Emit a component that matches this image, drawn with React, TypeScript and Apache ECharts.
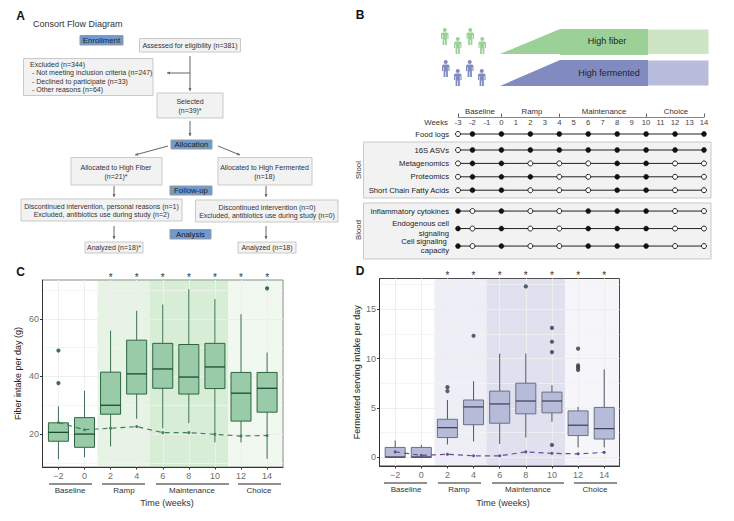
import React, { useEffect, useRef } from "react";
import * as echarts from "echarts";

const FONT = "Liberation Sans";

// Panel B
const scheduleWeeks = [-3, -2, 0, 2, 4, 6, 8, 10, 12, 14];
const foodRows = ["Food logs"];
const stoolRows = ["16S ASVs", "Metagenomics", "Proteomics", "Short Chain Fatty Acids"];
const bloodRows = ["Inflammatory cytokines", "Endogenous cell\nsignaling", "Cell signaling \ncapacity"];
const foodSamples = [[0, 1, 1, 1, 1, 1, 1, 1, 1, 1]];
const stoolSamples = [
  [0, 1, 1, 1, 1, 1, 1, 1, 1, 1],
  [0, 1, 1, 0, 0, 0, 1, 1, 0, 0],
  [0, 1, 1, 1, 0, 0, 1, 1, 0, 0],
  [0, 1, 1, 0, 0, 0, 1, 1, 0, 0],
];
const bloodSamples = [
  [1, 0, 1, 0, 0, 1, 1, 1, 0, 0],
  [1, 0, 1, 0, 0, 1, 1, 1, 0, 0],
  [1, 0, 1, 0, 0, 1, 1, 1, 0, 0],
];

// Panels C, D
const weeks = [-2, 0, 2, 4, 6, 8, 10, 12, 14];
const starWeeks = [2, 4, 6, 8, 10, 12, 14];
// min, Q1, median, Q3, max
const fiberBoxes = [
  [11.3, 17.5, 20.6, 23.9, 29.6],
  [12, 15.4, 20, 25.7, 35],
  [15.7, 26.9, 30, 41.5, 55.9],
  [25.3, 33.9, 40.9, 52.6, 62.8],
  [22, 35.9, 42.6, 51.5, 65],
  [23.8, 33.9, 39.8, 51.1, 70.3],
  [17.1, 35.8, 43.3, 51.5, 66.9],
  [17.1, 24.5, 34.2, 41.4, 61.6],
  [11.4, 27.6, 35.9, 41.4, 48.3],
];
const fiberOutliers = [[-2, 37.7], [-2, 49], [14, 70.6]];
const fiberMeans = [24, 21.5, 22, 22.6, 20.5, 20.5, 19.9, 19.3, 19.5];
const fermentedBoxes = [
  [0, 0, 0.03, 1, 1.7],
  [0, 0, 0.03, 1, 1.25],
  [1.3, 2, 3, 3.85, 5.8],
  [1.6, 3.3, 5.1, 5.8, 7.7],
  [1.35, 3.45, 5.4, 6.7, 10.5],
  [2, 4.4, 5.7, 7.5, 10.5],
  [3.6, 4.5, 5.7, 6.6, 7.3],
  [1, 2.2, 3.25, 4.7, 5.1],
  [1, 1.85, 2.9, 5.05, 8.9],
];
const fermentedOutliers = [
  [2, 6.7], [2, 7.1], [4, 12.3], [8, 17.3], [10, 1.25], [10, 10.65], [10, 11.7], [10, 13.1],
  [12, 8.85], [12, 9.1], [12, 9.3], [12, 11],
];
const fermentedMeans = [0.55, 0.2, 0.3, 0.15, 0.15, 0.55, 0.4, 0.35, 0.5];

echarts.graphic.registerShape(
  "person",
  echarts.graphic.extendPath(
    "M3.75 0a2 2 0 1 0 .01 0ZM1.6 4.4H5.9Q7.5 4.4 7.5 6V11H6.4V7H5.9V17H4.1V11.5H3.4V17H1.6V7H1.1V11H0V6Q0 4.4 1.6 4.4Z",
    {}
  ) as any
);

const G: any[] = [];
const txt = (x: number, y: number, text: string, o: any = {}) =>
  G.push({
    type: "text",
    x,
    y,
    rotation: o.rotation || 0,
    z: 5,
    silent: true,
    style: {
      text,
      fill: o.fill || "#333",
      fontSize: o.size || 7.8,
      fontWeight: o.weight || "normal",
      fontFamily: FONT,
      textAlign: o.align || "center",
      textVerticalAlign: "middle",
    },
  });
const box = (x0: number, y0: number, x1: number, y1: number, fill = "#f2f2f2", stroke = "#c9c9c9") =>
  G.push({
    type: "rect",
    silent: true,
    z: 1,
    shape: { x: x0, y: y0, width: x1 - x0, height: y1 - y0 },
    style: { fill, stroke, lineWidth: 1 },
  });
const line = (x0: number, y0: number, x1: number, y1: number, stroke = "#666", w = 1) =>
  G.push({
    type: "line",
    silent: true,
    z: 1,
    shape: { x1: x0, y1: y0, x2: x1, y2: y1 },
    style: { stroke, lineWidth: w },
  });
const arrow = (x0: number, y0: number, x1: number, y1: number) => {
  line(x0, y0, x1, y1);
  const a = Math.atan2(y1 - y0, x1 - x0);
  const p = (d: number, s: number) => [x1 - d * Math.cos(a) - s * Math.sin(a), y1 - d * Math.sin(a) + s * Math.cos(a)];
  G.push({
    type: "polygon",
    silent: true,
    z: 1,
    shape: { points: [[x1, y1], p(3, 1.5), p(3, -1.5)] },
    style: { fill: "#666" },
  });
};
const stage = (x0: number, y0: number, x1: number, y1: number, t: string) => {
  box(x0, y0, x1, y1, "#6d9bd1", "#9a9a9a");
  txt((x0 + x1) / 2, (y0 + y1) / 2, t, { size: 7.8, fill: "#222" });
};
const A_SIZE = 7;

// Panel A
txt(20.5, 16, "A", { size: 12, weight: "bold", fill: "#111" });
txt(33, 24, "Consort Flow Diagram", { align: "left", size: 9 });
stage(80, 35.5, 123, 45, "Enrollment");
box(139.5, 38.5, 240.5, 52);
txt(190, 45.5, "Assessed for eligibility (n=381)", { size: A_SIZE });
box(23.5, 58.5, 153, 95.5);
txt(30, 64, "Excluded (n=344)", { align: "left", size: A_SIZE });
txt(32, 72.5, "- Not meeting inclusion criteria (n=247)", { align: "left", size: A_SIZE });
txt(32, 81, "- Declined to participate (n=33)", { align: "left", size: A_SIZE });
txt(32, 89.5, "- Other reasons (n=64)", { align: "left", size: A_SIZE });
arrow(190, 56, 190, 91);
arrow(190, 73, 167, 73);
box(157, 93, 223, 118);
txt(190, 101, "Selected", { size: A_SIZE });
txt(190, 110, "(n=39)*", { size: A_SIZE });
arrow(190, 121, 190, 136);
stage(171, 140, 212, 149, "Allocation");
arrow(168, 146, 135, 155);
arrow(218, 146, 240, 155);
box(71, 157.5, 162, 185);
txt(116, 167, "Allocated to High Fiber", { size: A_SIZE });
txt(116, 176, "(n=21)*", { size: A_SIZE });
box(218, 157.5, 312, 185);
txt(264.5, 167, "Allocated to High Fermented", { size: A_SIZE });
txt(264.5, 176, "(n=18)", { size: A_SIZE });
stage(170, 186, 212, 195, "Follow-up");
arrow(114, 186, 114, 197);
arrow(266, 186, 266, 197);
box(21, 199, 182, 221);
txt(101.5, 206, "Discontinued intervention, personal reasons (n=1)", { size: A_SIZE });
txt(101.5, 214, "Excluded, antibiotics use during study (n=2)", { size: A_SIZE });
box(195.5, 200, 338, 222);
txt(267, 207, "Discontinued intervention (n=0)", { size: A_SIZE });
txt(267, 215, "Excluded, antibiotics use during study (n=0)", { size: A_SIZE });
arrow(114, 226, 114, 239);
arrow(266, 226, 266, 239);
stage(170, 229.5, 211, 239, "Analysis");
box(85, 242, 143, 253);
txt(114, 247.5, "Analyzed (n=18)*", { size: A_SIZE });
box(238, 242, 296, 253);
txt(267, 247.5, "Analyzed (n=18)", { size: A_SIZE });

// Panel B
txt(360, 15, "B", { size: 12, weight: "bold", fill: "#111" });
[[441, 28], [454, 37], [466.5, 28], [478.5, 37]].forEach(([x, y]) =>
  G.push({ type: "person", x, y, z: 1, silent: true, style: { fill: "#9bd096" } })
);
[[442, 60], [454, 69], [466, 60], [478, 69]].forEach(([x, y]) =>
  G.push({ type: "person", x, y, z: 1, silent: true, style: { fill: "#828bbf" } })
);
const poly = (points: number[][], fill: string) =>
  G.push({ type: "polygon", silent: true, z: 1, shape: { points }, style: { fill } });
poly([[500, 54], [560, 29], [648, 29], [648, 55], [560, 55], [560, 54]], "#9bd096");
poly([[648, 29.5], [708.5, 29.5], [708.5, 54], [648, 54]], "#cde5c4");
poly([[500, 86], [560, 60], [648, 60], [648, 86]], "#828bbf");
poly([[648, 60.5], [708.5, 60.5], [708.5, 85.5], [648, 85.5]], "#b8bcdb");
txt(607, 41, "High fiber", { size: 9, fill: "#222" });
txt(609, 73, "High fermented", { size: 9, fill: "#222" });
txt(480, 111, "Baseline");
txt(532, 111, "Ramp");
txt(604, 111, "Maintenance");
txt(676, 111, "Choice");
txt(448, 122.5, "Weeks", { align: "right" });
box(363.5, 142, 711, 198);
box(363.5, 203, 711, 259);
txt(358, 170, "Stool", { rotation: Math.PI / 2 });
txt(358, 230, "Blood", { rotation: Math.PI / 2 });

// Panel C, D furniture
const phases = (lines: number[][], y: number, labels: number[], ly: number) => {
  const names = ["Baseline", "Ramp", "Maintenance", "Choice"];
  lines.forEach(([a, b], i) => {
    line(a, y, b, y, "#222", 1);
    txt(labels[i], ly, names[i], { size: 8 });
  });
};
txt(20.5, 272, "C", { size: 12, weight: "bold", fill: "#111" });
phases([[49, 92], [102, 145], [156, 229], [238, 281]], 484, [70, 124, 192, 259], 490.5);
txt(167, 503, "Time (weeks)", { size: 9 });
txt(360, 271, "D", { size: 12, weight: "bold", fill: "#111" });
phases([[384, 427], [438, 481], [492, 564], [574, 617]], 483, [406, 459, 528, 595], 489.5);
txt(503, 503, "Time (weeks)", { size: 9 });

const X_B = { left: 458, width: 246 };

const scheduleSeries = (rows: string[], samples: number[][], idx: number) =>
  rows.map((r, i) => ({
    type: "line",
    xAxisIndex: idx,
    yAxisIndex: idx,
    z: 5,
    clip: false,
    symbol: "circle",
    symbolSize: 5,
    lineStyle: { color: "#222", width: 1 },
    data: scheduleWeeks.map((w, k) => ({
      value: [w, r],
      itemStyle: samples[i][k]
        ? { color: "#111", borderColor: "#111", borderWidth: 0.5 }
        : { color: "#fff", borderColor: "#222", borderWidth: 1 },
    })),
  }));

const bAxisX = (gridIndex: number) => ({
  type: "value",
  gridIndex,
  min: -3,
  max: 14,
  show: false,
});
const bAxisY = (gridIndex: number, data: string[]) => ({
  type: "category",
  gridIndex,
  data,
  inverse: true,
  z: 3,
  axisLine: { show: false },
  axisTick: { show: false },
  splitLine: { show: false },
  axisLabel: {
    interval: 0,
    margin: 9,
    fontSize: 7.7,
    lineHeight: 9.5,
    color: "#222",
    fontFamily: FONT,
  },
});

const minus = (v: number) => String(v).replace("-", "\u2212");

const plotAxes = (
  g: number,
  xmin: number,
  xmax: number,
  ymin: number,
  ymax: number,
  yticks: number[],
  yminor: number[],
  name: string,
  nameGap: number
) => ({
  x: [
    {
      type: "value",
      gridIndex: g,
      min: xmin,
      max: xmax,
      z: 2,
      axisLine: { show: true, onZero: false, lineStyle: { color: "#333" } },
      axisTick: { show: true, customValues: weeks, length: 2.5, lineStyle: { color: "#333" } },
      axisLabel: {
        customValues: weeks,
        fontSize: 9,
        color: "#6e6e6e",
        margin: 4,
        fontFamily: FONT,
        formatter: (v: number) => minus(v),
      },
      splitLine: { show: true, lineStyle: { color: "#eeeeee", width: 1 } },
    },
    {
      type: "value",
      gridIndex: g,
      position: "top",
      min: xmin,
      max: xmax,
      z: 2,
      axisLine: { show: false, onZero: false },
      axisTick: { show: false },
      splitLine: { show: false },
      axisLabel: {
        customValues: starWeeks,
        fontSize: 10,
        color: "#333",
        margin: -2,
        fontFamily: FONT,
        formatter: () => "*",
      },
    },
  ],
  y: [
    {
      type: "value",
      gridIndex: g,
      min: ymin,
      max: ymax,
      z: 2,
      name,
      nameLocation: "middle",
      nameGap,
      nameTextStyle: { fontSize: 9, color: "#222", fontFamily: FONT },
      axisLine: { show: true, onZero: false, lineStyle: { color: "#333" } },
      axisTick: { show: true, customValues: yticks, length: 2.5, lineStyle: { color: "#333" } },
      axisLabel: { customValues: yticks, fontSize: 9, color: "#6e6e6e", margin: 3.5, fontFamily: FONT },
      splitLine: { show: true, lineStyle: { color: "#eeeeee", width: 1.2 } },
    },
    {
      type: "value",
      gridIndex: g,
      min: ymin,
      max: ymax,
      z: 2,
      axisLine: { show: false, onZero: false },
      axisTick: { show: false, customValues: yminor },
      axisLabel: { show: false, customValues: yminor },
      splitLine: { show: true, lineStyle: { color: "#f2f2f2", width: 0.8 } },
    },
  ],
});

const bands = (c: string, xmax: number, op: number[]) => ({
  silent: true,
  z: 1,
  label: { show: false },
  data: [
    [{ xAxis: 1, itemStyle: { color: c, opacity: op[0] } }, { xAxis: 5 }],
    [{ xAxis: 5, itemStyle: { color: c, opacity: op[1] } }, { xAxis: 11 }],
    [{ xAxis: 11, itemStyle: { color: c, opacity: op[2] } }, { xAxis: xmax }],
  ],
});

const BOX_HALF = 10;
const boxRenderer = (fill: string, stroke: string, medianColor: string, whisker: string) => (_: any, api: any) => {
  const x = api.value(0);
  const y = (dim: number) => api.coord([x, api.value(dim)])[1];
  const cx = api.coord([x, 0])[0];
  const wl = (y1: number, y2: number, c: string, w: number, x1 = cx, x2 = cx) => ({
    type: "line",
    shape: { x1, y1, x2, y2 },
    style: { stroke: c, lineWidth: w },
  });
  return {
    type: "group",
    children: [
      wl(y(1), y(2), whisker, 1),
      wl(y(4), y(5), whisker, 1),
      {
        type: "rect",
        shape: { x: cx - BOX_HALF, y: y(4), width: BOX_HALF * 2, height: y(2) - y(4) },
        style: { fill, stroke, lineWidth: 1 },
      },
      wl(y(3), y(3), medianColor, 1.2, cx - BOX_HALF, cx + BOX_HALF),
    ],
  };
};

const plotSeries = (
  xi: number,
  yi: number,
  boxes: number[][],
  outliers: number[][],
  means: number[],
  colors: { fill: string; stroke: string; median: string; whisker: string; dash: string; dot: string; band: string },
  xmax: number,
  op: number[]
) => [
  {
    type: "line",
    xAxisIndex: xi,
    yAxisIndex: yi,
    z: 6,
    symbol: "circle",
    symbolSize: 3,
    itemStyle: { color: colors.dash },
    lineStyle: { color: colors.dash, width: 1.2, type: [5, 4] },
    data: weeks.map((w, i) => [w, means[i]]),
    markArea: bands(colors.band, xmax, op),
  },
  {
    type: "custom",
    xAxisIndex: xi,
    yAxisIndex: yi,
    z: 4,
    encode: { x: 0, y: [1, 2, 3, 4, 5] },
    renderItem: boxRenderer(colors.fill, colors.stroke, colors.median, colors.whisker),
    data: weeks.map((w, i) => [w, ...boxes[i]]),
  },
  {
    type: "scatter",
    xAxisIndex: xi,
    yAxisIndex: yi,
    z: 5,
    symbolSize: 4.2,
    itemStyle: { color: colors.dot },
    data: outliers,
  },
];

export default function App() {
  const ref = useRef<HTMLDivElement>(null);
  useEffect(() => {
    document.body.style.margin = "0";
    document.body.style.background = "#fff";
    const chart = echarts.init(ref.current!, undefined, { renderer: "svg" });
    const cA = plotAxes(3, -3.22, 15.22, 8.56, 73.5, [20, 40, 60], [10, 30, 50, 70], "Fiber intake per day (g)", 20);
    const dA = plotAxes(4, -3.2, 15.17, -0.88, 18.1, [0, 5, 10, 15], [2.5, 7.5, 12.5, 17.5], "Fermented serving intake per day", 18);
    chart.setOption({
      animation: false,
      textStyle: { fontFamily: FONT },
      grid: [
        { ...X_B, top: 128, height: 12 },
        { ...X_B, top: 143.3, height: 53.6 },
        { ...X_B, top: 202.3, height: 52.5 },
        { left: 42.5, width: 240.5, top: 280, height: 187, show: true, backgroundColor: "#fff", borderColor: "#888", borderWidth: 1 },
        { left: 379.5, width: 240, top: 278.5, height: 187.5, show: true, backgroundColor: "#fff", borderColor: "#444", borderWidth: 1 },
      ],
      xAxis: [
        {
          type: "value",
          gridIndex: 0,
          position: "top",
          offset: 11,
          min: -3,
          max: 14,
          interval: 1,
          axisLine: { show: true, onZero: false, lineStyle: { color: "#888" } },
          axisTick: { show: true, customValues: [-3, 0, 4, 10, 14], length: 3.5, lineStyle: { color: "#666" } },
          axisLabel: { inside: true, margin: 1.5, fontSize: 7.7, color: "#444", fontFamily: FONT },
          splitLine: { show: false },
        },
        bAxisX(1),
        bAxisX(2),
        ...cA.x,
        ...dA.x,
      ],
      yAxis: [
        bAxisY(0, foodRows),
        bAxisY(1, stoolRows),
        bAxisY(2, bloodRows),
        ...cA.y,
        ...dA.y,
      ],
      series: [
        ...scheduleSeries(foodRows, foodSamples, 0),
        ...scheduleSeries(stoolRows, stoolSamples, 1),
        ...scheduleSeries(bloodRows, bloodSamples, 2),
        ...plotSeries(3, 3, fiberBoxes, fiberOutliers, fiberMeans,
          { fill: "#9acba8", stroke: "#2b6540", median: "#0e4225", whisker: "#3f6f52", dash: "#3f8450", dot: "#0f4f2b", band: "#9bd096" },
          15.22, [0.25, 0.39, 0.14]),
        ...plotSeries(5, 5, fermentedBoxes, fermentedOutliers, fermentedMeans,
          { fill: "#b6bbd9", stroke: "#6b6f85", median: "#3a3d50", whisker: "#50536a", dash: "#6a4c93", dot: "#33364c", band: "#9a9cc9" },
          15.17, [0.17, 0.31, 0.09]),
      ],
      graphic: { elements: G },
    });
    return () => chart.dispose();
  }, []);
  return <div ref={ref} style={{ width: 734, height: 521 }} />;
}
